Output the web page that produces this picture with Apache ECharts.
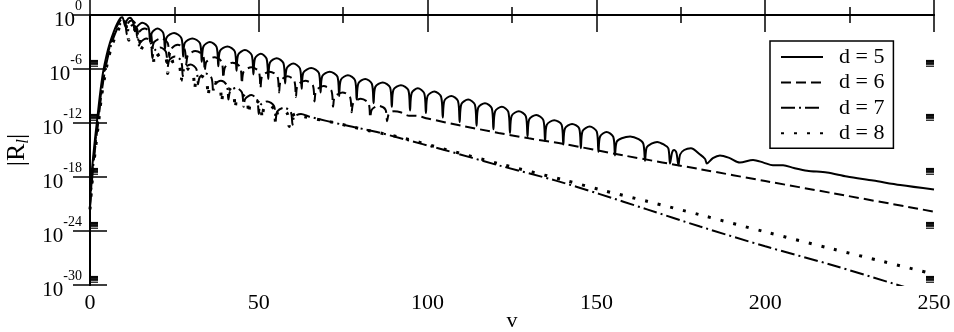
<!DOCTYPE html>
<html>
<head>
<meta charset="utf-8">
<script src="https://cdn.jsdelivr.net/npm/echarts@6/dist/echarts.min.js"></script>
<style>
  html, body { margin: 0; padding: 0; background: #fff; }
  #container { width: 954px; height: 332px; }
</style>
</head>
<body>
<div id="container"></div>
<script>
// values are [v, log10 |R_l|]
const seriesNames = ['d = 5', 'd = 6', 'd = 7', 'd = 8'];

const d5 = [
  [0, -21.0], [0.6, -17.2], [1.3, -14.4], [2.1, -11.7], [3.0, -8.7], [3.9, -6.3], [4.9, -4.5], [5.9, -3.1],
  [7.0, -1.9], [8.0, -1.0], [9.0, -0.35], [9.6, -0.25], [10.4, -1.2], [10.9, -0.6], [11.8, -0.3], [12.7, -0.7], [13.3, -1.8],
  [13.8, -1.35], [15.5, -0.85], [17.3, -1.35], [17.8, -3.0],
  [18.3, -2.0], [20.0, -1.5], [21.7, -2.0], [22.2, -3.8],
  [22.7, -2.5], [24.9, -2.0], [27.1, -2.6], [27.6, -4.6],
  [28.1, -3.1], [30.3, -2.6], [32.6, -3.15], [33.1, -5.2],
  [33.6, -3.5], [35.5, -3.0], [37.5, -3.55], [38.0, -5.7],
  [38.5, -4.0], [40.7, -3.5], [42.9, -4.05], [43.4, -6.2],
  [43.9, -4.4], [45.9, -3.9], [47.9, -4.45], [48.4, -6.6],
  [48.9, -4.8], [50.6, -4.3], [52.3, -4.85], [52.8, -7.1],
  [53.3, -5.3], [55.3, -4.8], [57.3, -5.35], [57.8, -7.6],
  [58.3, -5.9], [60.2, -5.4], [62.2, -5.95], [62.7, -8.2],
  [63.2, -6.4], [65.5, -5.9], [67.8, -6.45], [68.3, -8.6],
  [68.8, -6.8], [71.0, -6.3], [73.3, -6.85], [73.8, -9.0],
  [74.3, -7.2], [76.4, -6.7], [78.5, -7.25], [79.0, -9.4],
  [79.5, -7.6], [81.5, -7.1], [83.5, -7.65], [84.0, -9.8],
  [84.5, -8.0], [86.7, -7.5], [88.9, -8.05], [89.4, -10.2],
  [89.9, -8.3], [92.1, -7.8], [94.3, -8.35], [94.8, -10.6],
  [95.3, -8.65], [97.1, -8.15], [99.0, -8.7], [99.5, -10.9],
  [100.0, -9.0], [102.0, -8.5], [104.0, -9.1], [104.5, -11.4],
  [105.0, -9.5], [107.0, -9.0], [109.0, -9.55], [109.5, -11.9],
  [110.0, -9.9], [112.0, -9.4], [114.0, -9.95], [114.5, -12.3],
  [115.0, -10.3], [117.0, -9.8], [119.0, -10.35], [119.5, -12.7],
  [120.0, -10.7], [122.0, -10.2], [123.9, -10.75], [124.4, -13.1],
  [124.9, -11.2], [127.0, -10.7], [129.1, -11.25], [129.6, -13.5],
  [130.1, -11.6], [132.2, -11.1], [134.3, -11.7], [134.8, -14.0],
  [135.3, -12.2], [137.5, -11.7], [139.7, -12.2], [140.2, -14.4],
  [140.7, -12.6], [142.8, -12.1], [144.9, -12.6], [145.4, -14.8],
  [145.9, -12.9], [148.0, -12.4], [150.1, -12.95], [150.6, -15.2],
  [151.1, -13.5], [153.0, -13.0], [155.0, -13.55], [155.5, -15.6],
  [156.0, -14.1], [157.5, -13.7], [160.0, -13.5], [162.5, -13.8], [163.9, -14.3], [164.4, -16.2],
  [164.9, -14.7], [166.3, -14.3], [168.0, -14.1], [170.0, -14.4], [171.3, -14.8], [171.8, -16.5],
  [172.4, -15.3], [173.0, -15.0], [173.7, -15.3], [174.3, -16.7],
  [174.8, -15.5], [176.0, -15.0], [178.0, -14.8], [180.7, -15.5], [182.2, -16.0], [182.7, -16.5],
  [184.5, -15.9], [186.6, -15.6], [189.5, -15.9], [192.5, -16.4], [196.4, -16.1], [199.5, -16.4],
  [202.3, -16.7], [205.3, -16.7], [208.5, -17.0], [212.4, -17.3], [218.3, -17.5], [224.2, -17.95],
  [232.0, -18.4], [240.0, -18.9], [250.0, -19.4]
];

const d6 = [
  [0, -21.2], [0.7, -17.4], [1.5, -14.4], [2.3, -11.9], [3.2, -8.9], [4.1, -6.5], [5.1, -4.6], [6.1, -3.2],
  [7.2, -2.0], [8.2, -1.1], [9.2, -0.5], [10.0, -0.4],
  [10.8, -1.6], [11.3, -0.9], [12.3, -0.6], [13.5, -1.0], [14.0, -2.5],
  [14.5, -1.9], [16.2, -1.5], [18.0, -2.0], [18.5, -3.6],
  [19.0, -3.0], [21.0, -2.6], [23.0, -3.1], [23.5, -4.7],
  [24.0, -3.8], [26.0, -3.3], [28.0, -3.8], [28.5, -5.5],
  [29.0, -4.5], [31.2, -4.0], [33.5, -4.5], [34.0, -6.2],
  [34.5, -5.2], [36.8, -4.7], [39.0, -5.2], [39.5, -7.0],
  [40.0, -5.8], [42.2, -5.3], [44.5, -5.8], [45.0, -7.6],
  [45.5, -6.3], [47.8, -5.8], [50.0, -6.3], [50.5, -8.1],
  [51.0, -6.8], [53.2, -6.3], [55.5, -6.8], [56.0, -8.6],
  [56.5, -7.3], [58.5, -6.8], [60.5, -7.3], [61.0, -9.1],
  [61.5, -7.8], [63.8, -7.3], [66.0, -7.8], [66.5, -9.6],
  [67.0, -8.4], [69.2, -7.9], [71.5, -8.4], [72.0, -10.2],
  [72.5, -9.1], [74.8, -8.6], [77.0, -9.1], [77.5, -10.8],
  [78.0, -9.8], [80.2, -9.3], [82.5, -9.8], [83.0, -11.4],
  [83.5, -10.5], [85.5, -10.1], [87.5, -10.5], [88.0, -11.8],
  [88.5, -11.0], [90.0, -10.7], [92.0, -10.8], [94.5, -11.2], [96.5, -11.2], [100.0, -11.5],
  [110.0, -12.3], [121.0, -13.1], [130.0, -13.7], [140.0, -14.3], [158.0, -15.6], [181.0, -17.15],
  [200.0, -18.45], [220.0, -19.8], [250.0, -21.85]
];

const d7 = [
  [0, -21.4], [0.8, -17.4], [1.6, -14.5], [2.4, -12.0], [3.3, -9.0], [4.2, -6.7], [5.2, -4.8], [6.3, -3.3],
  [7.4, -2.1], [8.4, -1.3], [9.4, -0.8], [10.2, -0.7],
  [11.0, -2.2], [11.5, -1.5], [12.7, -1.1], [14.0, -1.6], [14.5, -3.4],
  [15.0, -3.0], [16.7, -2.6], [18.0, -3.1], [18.5, -4.8],
  [19.0, -4.0], [20.8, -3.6], [22.5, -4.1], [23.0, -5.8],
  [23.5, -5.0], [25.2, -4.6], [27.0, -5.1], [27.5, -6.8],
  [28.0, -5.9], [29.8, -5.5], [31.5, -6.0], [32.0, -7.7],
  [32.5, -6.9], [34.3, -6.5], [36.0, -7.0], [36.5, -8.6],
  [37.0, -7.7], [38.8, -7.3], [40.5, -7.8], [41.0, -9.4],
  [41.5, -8.5], [43.3, -8.1], [45.0, -8.6], [45.5, -10.2],
  [46.0, -9.3], [47.8, -8.9], [49.5, -9.4], [50.0, -11.0],
  [50.5, -10.0], [52.5, -9.6], [54.5, -10.1], [55.0, -11.6],
  [55.5, -10.7], [57.5, -10.3], [59.5, -10.8], [60.0, -12.2],
  [60.5, -11.3], [62.5, -11.0], [65.0, -11.3], [75.0, -12.2], [85.0, -13.0], [92.0, -13.7],
  [105.0, -15.0], [121.0, -16.7], [138.0, -18.4], [151.0, -19.9], [165.0, -21.6], [180.7, -23.5],
  [200.0, -25.7], [220.0, -27.8], [239.3, -30.0], [250.0, -31.2]
];

const d8 = [
  [0, -21.6], [0.9, -17.4], [1.7, -14.6], [2.5, -12.1], [3.4, -9.1], [4.4, -6.8], [5.4, -4.9], [6.5, -3.4],
  [7.6, -2.3], [8.6, -1.5], [9.6, -1.0], [10.4, -0.9],
  [11.5, -2.8], [12.0, -2.1], [13.3, -1.7], [14.5, -2.2], [15.0, -4.0],
  [15.5, -3.6], [17.0, -3.2], [18.5, -3.7], [19.0, -5.4],
  [19.5, -4.7], [21.0, -4.3], [22.5, -4.8], [23.0, -6.5],
  [23.5, -5.5], [25.0, -5.1], [26.5, -5.6], [27.0, -7.3],
  [27.5, -6.4], [29.0, -6.0], [30.5, -6.5], [31.0, -8.2],
  [31.5, -7.2], [33.0, -6.8], [34.5, -7.3], [35.0, -9.0],
  [35.5, -7.9], [37.0, -7.5], [38.5, -8.0], [39.0, -9.7],
  [39.5, -8.6], [41.0, -8.2], [42.5, -8.7], [43.0, -10.4],
  [43.5, -9.3], [45.0, -8.9], [46.5, -9.4], [47.0, -11.0],
  [47.5, -9.9], [49.0, -9.5], [50.5, -10.0], [51.0, -11.5],
  [51.5, -10.4], [53.0, -10.0], [54.5, -10.5], [55.0, -12.0],
  [55.5, -10.9], [57.0, -10.5], [58.5, -11.0], [59.0, -12.4],
  [59.5, -11.4], [61.0, -11.0], [63.5, -11.3], [71.6, -11.9], [82.0, -12.8], [92.0, -13.6],
  [105.0, -14.9], [121.0, -16.5], [141.0, -18.4], [151.0, -19.4], [165.0, -20.7], [180.7, -22.2],
  [200.0, -24.1], [220.0, -26.0], [235.0, -27.4], [250.0, -28.8]
];

// axis ticks (exponents) and the log minor ticks 2..9 x 10^n
const yMajorTicks = [-30, -24, -18, -12, -6, 0];
const yMinorOffsets = [0.301, 0.477, 0.602, 0.699, 0.778, 0.845, 0.903, 0.954];

const FONT = 'Liberation Serif';
const BLACK = '#000';

const minorData = [];
[0, 1].forEach(side => {
  yMajorTicks.forEach(m => {
    yMinorOffsets.forEach(o => {
      if (m + o < 0) minorData.push([side, m + o]);
    });
  });
});

const chart = echarts.init(document.getElementById('container'), null, { renderer: 'canvas' });

const xCommon = {
  type: 'value', min: 0, max: 250, interval: 50,
  axisLine: { lineStyle: { color: BLACK, width: 2 } },
  axisTick: { inside: true, length: 17, lineStyle: { color: BLACK, width: 1.5 } },
  minorTick: { show: true, splitNumber: 2, length: 8, lineStyle: { color: BLACK, width: 1.5 } },
  splitLine: { show: false }
};
const yCommon = {
  type: 'value', min: -30, max: 0, interval: 6,
  axisLine: { show: true, lineStyle: { color: BLACK, width: 2 } },
  axisTick: { show: true, inside: true, length: 17, lineStyle: { color: BLACK, width: 1.5 } },
  splitLine: { show: false }
};

const lineSeries = (name, data, width, type) => ({
  name, type: 'line', data,
  showSymbol: false, symbol: 'none',
  smooth: 0.3,
  color: BLACK,
  lineStyle: { color: BLACK, width, type },
  z: 3
});

const option = {
  animation: false,
  grid: { left: 90, right: 20, top: 15, bottom: 47, outerBoundsMode: 'none', containLabel: false },
  xAxis: [
    Object.assign({}, xCommon, {
      position: 'bottom',
      name: 'v', nameLocation: 'middle', nameGap: 25, nameMoveOverlap: false,
      nameTextStyle: { fontFamily: FONT, fontSize: 22, color: BLACK },
      axisLabel: { fontFamily: FONT, fontSize: 22, color: BLACK, margin: 7 }
    }),
    Object.assign({}, xCommon, { position: 'top', axisLabel: { show: false } })
  ],
  yAxis: [
    Object.assign({}, yCommon, {
      position: 'left',
      name: '{a||R}{sub|l}{a||}', nameLocation: 'middle', nameRotate: 90, nameGap: 58, nameMoveOverlap: false,
      nameTextStyle: {
        color: BLACK,
        rich: {
          a: { fontFamily: FONT, fontSize: 26, lineHeight: 30, color: BLACK },
          sub: { fontFamily: FONT, fontSize: 17, fontStyle: 'italic', lineHeight: 17, verticalAlign: 'bottom', color: BLACK }
        }
      },
      axisLabel: {
        margin: 8,
        formatter: v => '{z| }{b|10}{s|' + v + '}',
        rich: {
          z: { fontSize: 1, lineHeight: 31 },
          b: { fontFamily: FONT, fontSize: 21, lineHeight: 20, verticalAlign: 'bottom', color: BLACK },
          s: { fontFamily: FONT, fontSize: 14, lineHeight: 21, verticalAlign: 'top', color: BLACK }
        }
      }
    }),
    Object.assign({}, yCommon, { position: 'right', axisLabel: { show: false } })
  ],
  legend: {
    data: seriesNames,
    orient: 'vertical',
    left: 770, top: 41,
    padding: [5, 9, 4, 10],
    itemWidth: 42, itemHeight: 14, itemGap: 3.4,
    itemStyle: { opacity: 0 },
    backgroundColor: '#fff',
    borderColor: BLACK, borderWidth: 1.5, borderRadius: 0,
    textStyle: { fontFamily: FONT, fontSize: 22, lineHeight: 20, color: BLACK, padding: [0, 0, 0, 11] }
  },
  series: [
    lineSeries(seriesNames[0], d5, 2, 'solid'),
    lineSeries(seriesNames[1], d6, 2, [10, 5]),
    lineSeries(seriesNames[2], d7, 2, [14, 4, 2, 4]),
    lineSeries(seriesNames[3], d8, 3, [3, 10]),
    {
      type: 'custom',
      silent: true,
      clip: true,
      z: 4,
      data: minorData,
      renderItem(params, api) {
        const side = api.value(0);
        const p = api.coord([side ? 250 : 0, api.value(1)]);
        const dx = side ? -8 : 8;
        return {
          type: 'line',
          shape: { x1: p[0], y1: p[1], x2: p[0] + dx, y2: p[1] },
          style: { stroke: BLACK, lineWidth: 1 }
        };
      }
    }
  ]
};

chart.setOption(option);
window.addEventListener('resize', () => chart.resize());
</script>
</body>
</html>
